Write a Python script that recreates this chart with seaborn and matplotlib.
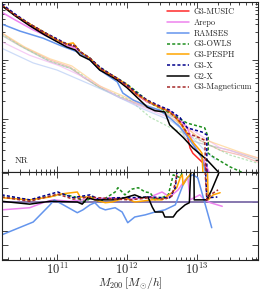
import numpy as np
import pandas as pd
import matplotlib
matplotlib.use('Agg')
import matplotlib.pyplot as plt
from matplotlib.ticker import MultipleLocator, NullFormatter, LogLocator
import seaborn as sns

# ---- data (log10 M200 [Msun/h], log10 N) ----
names = ["G3-MUSIC", "Arepo", "RAMSES", "G3-OWLS", "G3-PESPH", "G3-X", "G2-X", "G3-Magneticum"]
colors = ["#ff2a2a", "#ee82ee", "#6495ed", "#1f8f1f", "#ffa500", "#00008b", "#000000", "#a52a2a"]
dotted = [False, False, False, True, False, True, False, True]

music_m = [10.21, 10.40, 10.61, 10.83, 11.00, 11.14, 11.26, 11.33, 11.47, 11.61, 11.76, 11.86, 12.00, 12.14, 12.29, 12.43, 12.57, 12.69, 12.80, 12.86, 12.90, 12.94, 13.09, 13.16, 13.19]
music_n = [2.93, 2.76, 2.59, 2.44, 2.32, 2.25, 2.22, 2.12, 2.02, 1.86, 1.75, 1.68, 1.56, 1.41, 1.29, 1.22, 1.15, 1.05, 0.86, 0.73, 0.51, 0.42, 0.25, 0.10, -0.03]

arepo_m = [10.21, 10.40, 10.66, 10.83, 11.00, 11.14, 11.26, 11.33, 11.47, 11.61, 11.76, 11.86, 12.00, 12.14, 12.29, 12.47, 12.61, 12.76, 12.86, 12.93, 13.00, 13.11, 13.19]
arepo_n = [2.81, 2.68, 2.51, 2.42, 2.32, 2.25, 2.20, 2.12, 2.02, 1.86, 1.76, 1.69, 1.56, 1.42, 1.29, 1.20, 1.14, 0.98, 0.85, 0.64, 0.47, 0.27, 0.05]

ramses_m = [10.21, 10.47, 10.80, 11.04, 11.33, 11.47, 11.61, 11.76, 11.86, 11.94, 12.09, 12.29, 12.36, 12.47, 12.61, 12.76, 12.90, 13.07, 13.13]
ramses_n = [2.61, 2.49, 2.37, 2.25, 2.12, 2.00, 1.83, 1.71, 1.63, 1.44, 1.32, 1.22, 1.19, 1.15, 1.02, 0.86, 0.64, 0.34, 0.05]

owls_m = [10.21, 10.40, 10.61, 10.83, 11.00, 11.14, 11.26, 11.33, 11.47, 11.61, 11.76, 11.86, 12.00, 12.14, 12.33, 12.61, 12.86, 13.11, 13.16, 13.16, 13.23, 13.47, 13.69]
owls_n = [2.93, 2.76, 2.61, 2.46, 2.34, 2.27, 2.24, 2.14, 2.03, 1.88, 1.76, 1.69, 1.59, 1.46, 1.27, 1.10, 0.93, 0.85, 0.69, 0.42, 0.36, 0.19, 0.07]

pesph_m = [10.21, 10.40, 10.61, 10.83, 11.00, 11.14, 11.23, 11.33, 11.47, 11.61, 11.76, 11.86, 12.00, 12.14, 12.29, 12.47, 12.57, 12.66, 12.76, 12.86, 12.94, 13.04, 13.07, 13.09]
pesph_n = [2.93, 2.76, 2.61, 2.46, 2.34, 2.27, 2.29, 2.14, 2.03, 1.86, 1.76, 1.69, 1.58, 1.42, 1.31, 1.19, 1.15, 1.07, 0.93, 0.76, 0.61, 0.47, 0.42, -0.03]

g3x_m = [10.21, 10.40, 10.61, 10.83, 11.00, 11.14, 11.26, 11.33, 11.47, 11.61, 11.76, 11.86, 12.00, 12.14, 12.29, 12.47, 12.61, 12.76, 12.86, 13.07, 13.14, 13.14]
g3x_n = [2.95, 2.78, 2.61, 2.46, 2.36, 2.27, 2.24, 2.14, 2.03, 1.88, 1.76, 1.69, 1.58, 1.44, 1.32, 1.22, 1.15, 1.02, 0.85, 0.78, 0.73, -0.03]

g2x_m = [10.21, 10.40, 10.61, 10.83, 11.00, 11.14, 11.26, 11.33, 11.47, 11.61, 11.76, 11.86, 12.00, 12.14, 12.29, 12.40, 12.54, 12.61, 12.80, 12.94, 13.14, 13.36]
g2x_n = [2.92, 2.75, 2.58, 2.42, 2.31, 2.22, 2.17, 2.08, 2.00, 1.83, 1.73, 1.66, 1.53, 1.37, 1.20, 1.14, 1.12, 0.90, 0.69, 0.51, 0.31, 0.03]

magn_m = [10.21, 10.40, 10.61, 10.83, 11.00, 11.14, 11.26, 11.33, 11.47, 11.61, 11.76, 11.86, 12.00, 12.14, 12.29, 12.47, 12.61, 12.76, 12.86, 13.04, 13.11, 13.13]
magn_n = [2.93, 2.76, 2.61, 2.46, 2.34, 2.27, 2.24, 2.14, 2.03, 1.86, 1.75, 1.68, 1.56, 1.42, 1.31, 1.20, 1.12, 0.95, 0.76, 0.68, 0.64, -0.03]

# faded companion curves
fade_colors = ["#f4a6a0", "#b8b8b8", "#9ed89e", "#f2b8f2", "#b8cdf5", "#ffd08a"]
fade_dotted = [False, False, True, False, False, False]
fade_m = [
    [10.21, 10.47, 10.90, 11.19, 11.37, 11.61, 11.90, 12.14, 12.43, 12.61, 12.83, 13.04, 13.33, 13.61, 13.87],
    [10.21, 10.47, 10.90, 11.19, 11.40, 11.61, 11.90, 12.14, 12.43, 12.69, 12.83, 13.04, 13.47, 13.87],
    [10.21, 10.54, 10.90, 11.26, 11.61, 12.04, 12.33, 12.61, 13.04, 13.47, 13.87],
    [10.21, 10.61, 11.04, 11.47, 11.90, 12.33, 12.76, 13.04, 13.33, 13.87],
    [10.21, 10.66, 11.00, 11.43, 11.76, 12.19, 12.61, 12.90, 13.11, 13.26],
    [10.21, 10.54, 10.90, 11.21, 11.61, 12.04, 12.47, 12.83, 13.04, 13.61, 13.87],
]
fade_n = [
    [2.46, 2.25, 2.00, 1.88, 1.71, 1.54, 1.37, 1.27, 1.15, 1.08, 0.90, 0.64, 0.47, 0.39, 0.27],
    [2.42, 2.24, 1.97, 1.86, 1.69, 1.53, 1.36, 1.25, 1.14, 1.02, 0.68, 0.59, 0.47, 0.31],
    [2.44, 2.20, 1.98, 1.83, 1.53, 1.32, 1.03, 0.86, 0.64, 0.39, 0.25],
    [2.31, 2.08, 1.90, 1.66, 1.36, 1.15, 0.95, 0.73, 0.51, 0.34],
    [2.20, 1.95, 1.83, 1.61, 1.44, 1.19, 0.98, 0.73, 0.47, 0.31],
    [2.46, 2.22, 2.02, 1.90, 1.56, 1.34, 1.15, 0.86, 0.68, 0.44, 0.34],
]

# ratio panel (log10 M, ratio)
r_arepo_m = [10.21, 10.61, 10.80, 10.94, 11.19, 11.47, 11.76, 12.04, 12.33, 12.50, 12.61, 12.73, 12.83, 12.87, 12.90, 13.04, 13.11, 13.19, 13.36]
r_arepo = [0.89, 0.92, 0.99, 1.03, 1.01, 1.04, 1.06, 1.04, 1.07, 1.14, 1.07, 1.17, 1.31, 1.34, 1.03, 1.10, 1.03, 0.99, 0.94]

r_ramses_m = [10.21, 10.66, 10.90, 10.96, 11.09, 11.29, 11.37, 11.47, 11.54, 11.61, 11.69, 11.83, 11.93, 12.01, 12.11, 12.26, 12.40, 12.54, 12.69, 12.80, 12.87, 12.94, 13.01, 13.09, 13.21]
r_ramses = [0.54, 0.72, 0.96, 1.03, 0.96, 0.85, 0.89, 0.96, 0.99, 0.92, 0.89, 0.92, 0.86, 0.71, 0.79, 0.82, 0.86, 0.89, 0.96, 1.24, 1.35, 1.38, 1.34, 1.06, 0.64]

r_owls_m = [10.21, 10.61, 11.09, 11.26, 11.40, 11.50, 11.61, 11.83, 11.87, 11.97, 12.07, 12.16, 12.26, 12.33, 12.40, 12.50, 12.59, 12.66, 12.76, 12.83, 13.04]
r_owls = [1.07, 1.03, 1.11, 1.07, 1.00, 1.07, 1.00, 1.14, 1.20, 1.10, 1.18, 1.20, 1.14, 1.13, 1.03, 1.06, 1.10, 1.38, 1.34, 1.52, 1.87]

r_pesph_m = [10.21, 10.61, 10.90, 11.04, 11.29, 11.33, 11.47, 11.54, 11.69, 11.79, 11.97, 12.11, 12.36, 12.50, 12.64, 12.71, 12.76, 12.79, 12.80, 12.86, 12.90, 13.00, 13.09, 13.14, 13.16, 13.23, 13.33]
r_pesph = [1.06, 1.03, 1.07, 1.11, 1.14, 1.07, 1.07, 1.03, 0.99, 1.00, 1.06, 1.00, 1.03, 1.03, 1.13, 1.20, 1.34, 1.38, 1.24, 1.34, 1.38, 1.59, 1.73, 1.73, 1.03, 1.10, 1.13]

r_g3x_m = [10.21, 10.61, 11.01, 11.23, 11.47, 11.61, 11.83, 12.04, 12.33, 12.54, 12.61, 12.69, 12.71, 12.76, 13.11, 13.14, 13.16, 13.29]
r_g3x = [1.10, 1.03, 1.14, 1.06, 1.10, 1.03, 1.06, 1.06, 1.07, 1.06, 1.06, 1.20, 1.38, 1.73, 1.73, 1.03, 1.06, 1.07]

r_g2x_m = [10.21, 10.61, 10.90, 11.29, 11.36, 11.44, 11.54, 11.69, 11.80, 11.97, 12.11, 12.21, 12.30, 12.36, 12.40, 12.51, 12.54, 12.66, 12.71, 12.83, 12.89, 12.93, 12.95, 12.96, 13.14, 13.21, 13.27, 13.33, 13.39]
r_g2x = [1.01, 0.97, 1.01, 1.00, 0.97, 1.06, 1.03, 1.03, 1.03, 1.06, 1.10, 1.06, 1.07, 0.93, 0.86, 0.86, 0.79, 0.79, 0.86, 0.96, 0.99, 1.87, 1.87, 1.03, 1.03, 1.17, 1.31, 1.45, 1.66]

r_magn_m = [10.21, 10.61, 11.01, 11.23, 11.47, 11.83, 12.04, 12.33, 12.54, 12.64, 12.70, 12.73, 13.11, 13.14, 13.19, 13.30]
r_magn = [1.07, 1.01, 1.11, 1.04, 1.07, 1.04, 1.03, 1.06, 1.04, 1.08, 1.31, 1.52, 1.52, 1.03, 1.10, 1.17]

top_m = [music_m, arepo_m, ramses_m, owls_m, pesph_m, g3x_m, g2x_m, magn_m]
top_n = [music_n, arepo_n, ramses_n, owls_n, pesph_n, g3x_n, g2x_n, magn_n]
ratio_m = {"Arepo": r_arepo_m, "RAMSES": r_ramses_m, "G3-OWLS": r_owls_m, "G3-PESPH": r_pesph_m,
           "G3-X": r_g3x_m, "G2-X": r_g2x_m, "G3-Magneticum": r_magn_m}
ratio_v = {"Arepo": r_arepo, "RAMSES": r_ramses, "G3-OWLS": r_owls, "G3-PESPH": r_pesph,
           "G3-X": r_g3x, "G2-X": r_g2x, "G3-Magneticum": r_magn}

# ---- style ----
sns.set_style("ticks")
plt.rcParams['font.family'] = ['cmr10', 'DejaVu Serif']
plt.rcParams['mathtext.fontset'] = 'cm'
plt.rcParams['axes.formatter.use_mathtext'] = True
plt.rcParams['axes.linewidth'] = 0.8
plt.rcParams['axes.edgecolor'] = '#222222'

DOT = (0, (2.0, 1.4))
LW = 1.1

fig = plt.figure(figsize=(2.6, 2.9), dpi=100)
gs = fig.add_gridspec(2, 1, height_ratios=[170, 88], hspace=0,
                      left=2 / 260, right=258 / 260, top=1 - 2 / 290, bottom=1 - 260 / 290)
ax = fig.add_subplot(gs[0])
axr = fig.add_subplot(gs[1], sharex=ax)

# faded curves
for m, n, c, d in zip(fade_m, fade_n, fade_colors, fade_dotted):
    df = pd.DataFrame({"M": 10 ** np.array(m), "N": 10 ** np.array(n)})
    sns.lineplot(data=df, x="M", y="N", ax=ax, color=c, lw=0.9, alpha=0.7,
                 linestyle=DOT if d else "-", estimator=None, sort=False)

# main curves
for name, m, n, c, d in zip(names, top_m, top_n, colors, dotted):
    df = pd.DataFrame({"M": 10 ** np.array(m), "N": 10 ** np.array(n)})
    sns.lineplot(data=df, x="M", y="N", ax=ax, color=c, lw=LW,
                 linestyle=DOT if d else "-", estimator=None, sort=False, label=name)

# ratio panel
axr.axhline(1.0, color="#7d6ca8", lw=1.3, zorder=1)
for name, c, d in zip(names, colors, dotted):
    if name not in ratio_m:
        continue
    df = pd.DataFrame({"M": 10 ** np.array(ratio_m[name]), "r": ratio_v[name]})
    sns.lineplot(data=df, x="M", y="r", ax=axr, color=c, lw=LW,
                 linestyle=DOT if d else "-", estimator=None, sort=False)

ax.set_xscale("log")
ax.set_yscale("log")
ax.set_xlim(10 ** 10.214, 10 ** 13.871)
ax.set_ylim(10 ** 0.102, 10 ** 2.983)
axr.set_ylim(0.188, 1.42)
axr.yaxis.set_major_locator(MultipleLocator(0.2))

for a in (ax, axr):
    a.tick_params(which="both", direction="in", top=True, right=True, width=0.6)
    a.tick_params(which="major", length=4)
    a.tick_params(which="minor", length=2)
    a.set_ylabel("")
    a.yaxis.set_major_formatter(NullFormatter())
    a.yaxis.set_minor_formatter(NullFormatter())
ax.tick_params(labelbottom=False)
ax.set_xlabel("")
axr.xaxis.set_major_locator(LogLocator(base=10))
axr.tick_params(axis="x", labelsize=9, pad=1)
axr.set_xlabel(r"$M_{200}\,[M_{\odot}/h]$", fontsize=8.5, labelpad=-1)

ax.text(0.05, 0.065, "NR", transform=ax.transAxes, fontsize=6.5, va="center", ha="left")

handles, labels = ax.get_legend_handles_labels()
ax.legend(handles, labels, loc="upper right", bbox_to_anchor=(1.0, 1.0), frameon=False,
          fontsize=6, handlelength=2.6, handletextpad=0.6, labelspacing=0.28, borderaxespad=0.3)

fig.savefig("out.png", dpi=100)
